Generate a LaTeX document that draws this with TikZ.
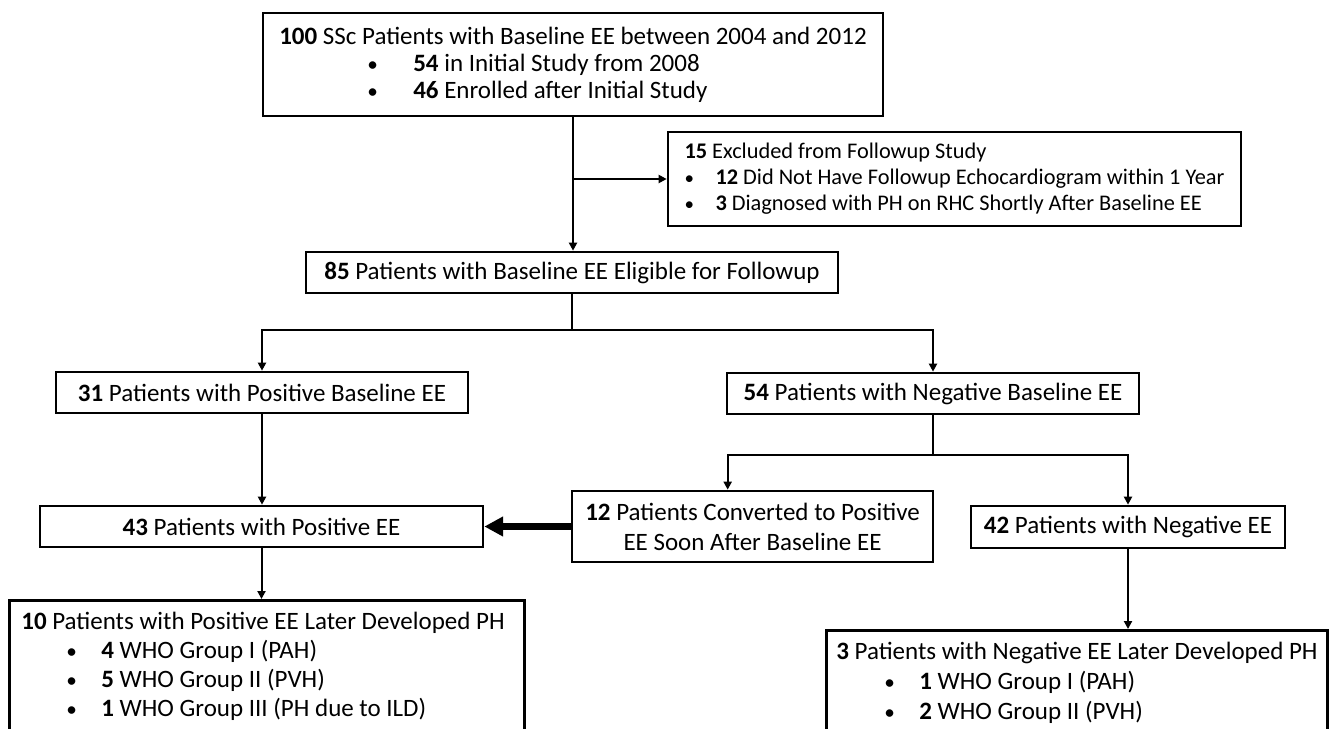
\documentclass[tikz,border=0pt]{standalone}
\usepackage{fontspec}
\setmainfont{Carlito}
\usetikzlibrary{arrows.meta}

\newcommand{\bul}{\scalebox{0.85}{•}}

\begin{document}
\begin{tikzpicture}[
    x=0.75pt, y=-0.75pt,
    box/.style={rectangle, draw, line width=2pt, inner sep=0pt,
                font=\fontsize{18.75}{20.25}\selectfont},
    listbox/.style={box, anchor=north west, align=left, inner xsep=8pt,
                    inner ysep=8.5pt, text depth=110pt},
    arrow/.style={-{Triangle[width=6pt,length=6pt]}, line width=1.5pt},
    bigarrow/.style={-{Triangle[width=14pt,length=14pt]}, line width=5pt},
]
\useasboundingbox (0,0) rectangle (1333,728);
\clip (0,0) rectangle (1333,728);

% Enrolment
\node[box, minimum width=465pt, minimum height=77.25pt, align=left] (base) at (573,64.5)
  {\textbf{100} SSc Patients with Baseline EE between 2004 and 2012\\
   \hspace*{66pt}\makebox[34.5pt][l]{\bul}\textbf{54} in Initial Study from 2008\\
   \hspace*{66pt}\makebox[34.5pt][l]{\bul}\textbf{46} Enrolled after Initial Study};
\node[box, minimum width=429.75pt, minimum height=70.5pt, align=left,
      font=\fontsize{16.75}{19.5}\selectfont] (excl) at (954.5,179)
  {\textbf{15} Excluded from Followup Study\\
   \makebox[23.25pt][l]{\bul}\textbf{12} Did Not Have Followup Echocardiogram within 1 Year\\
   \makebox[23.25pt][l]{\bul}\textbf{3} Diagnosed with PH on RHC Shortly After Baseline EE};
\node[box, minimum width=399pt, minimum height=30.75pt] (elig) at (572,272.5)
  {\textbf{85} Patients with Baseline EE Eligible for Followup};

% Baseline EE
\node[box, minimum width=309pt, minimum height=30.75pt] (posb) at (262,392.5)
  {\textbf{31} Patients with Positive Baseline EE};
\node[box, minimum width=309pt, minimum height=30.75pt] (negb) at (933,393.5)
  {\textbf{54} Patients with Negative Baseline EE};

% Followup EE
\node[box, minimum width=332.25pt, minimum height=30.75pt] (pose) at (261.5,526.5)
  {\textbf{43} Patients with Positive EE};
\node[box, minimum width=270.75pt, minimum height=53.25pt, align=center,
      font=\fontsize{18.75}{22.5}\selectfont] (conv) at (752.5,526.5)
  {\textbf{12} Patients Converted to Positive\\EE Soon After Baseline EE};
\node[box, minimum width=235.5pt, minimum height=31.5pt] (nege) at (1128,527)
  {\textbf{42} Patients with Negative EE};

% Outcome
\node[listbox, inner xsep=9pt, font=\fontsize{18.75}{21.75}\selectfont] (posph) at (8,599)
  {\textbf{10} Patients with Positive EE Later Developed PH\hspace*{6pt}\\
   \hspace*{33.75pt}\makebox[26.25pt][l]{\bul}\textbf{4} WHO Group I (PAH)\\
   \hspace*{33.75pt}\makebox[26.25pt][l]{\bul}\textbf{5} WHO Group II (PVH)\\
   \hspace*{33.75pt}\makebox[26.25pt][l]{\bul}\textbf{1} WHO Group III (PH due to ILD)};
\node[listbox, inner xsep=7.5pt, font=\fontsize{18.75}{22.5}\selectfont] (negph) at (825,629)
  {\textbf{3} Patients with Negative EE Later Developed PH\\
   \hspace*{36pt}\makebox[26.25pt][l]{\bul}\textbf{1} WHO Group I (PAH)\\
   \hspace*{36pt}\makebox[26.25pt][l]{\bul}\textbf{2} WHO Group II (PVH)};

% Connectors
\coordinate (split) at (base.south |- excl.west);
\coordinate (fork1) at (572,330);
\coordinate (fork2) at (933,455);
\coordinate (convin) at ([xshift=117.75pt]conv.north west);

\draw[arrow] (base.south) -- (base.south |- elig.north);
\draw[arrow] (split) -- (excl.west);
\draw[line width=1.5pt] (elig.south) -- (fork1);
\draw[arrow] (fork1) -| (posb.north);
\draw[arrow] (fork1) -| (negb.north);
\draw[line width=1.5pt] (negb.south) -- (fork2);
\draw[arrow] (fork2) -| (convin);
\draw[arrow] (fork2) -| (nege.north);
\draw[arrow] (posb.south) -- (posb.south |- pose.north);
\draw[bigarrow] (conv.west) -- (conv.west -| pose.east);
\draw[arrow] (pose.south) -- (pose.south |- posph.north);
\draw[arrow] (nege.south) -- (nege.south |- negph.north);

\end{tikzpicture}
\end{document}
